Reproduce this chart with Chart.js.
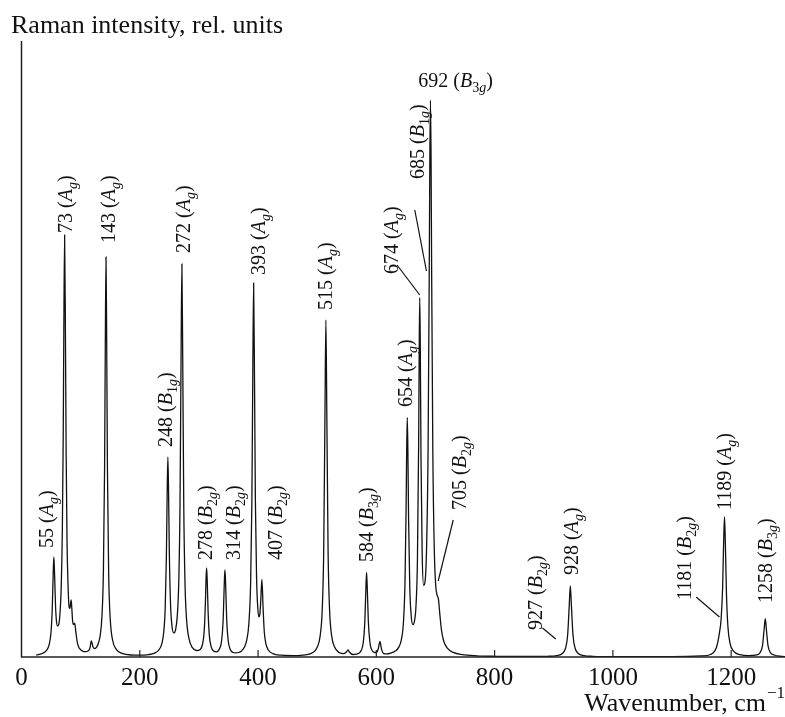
<!DOCTYPE html>
<html>
<head>
<meta charset="utf-8">
<script src="https://cdn.jsdelivr.net/npm/chart.js@4.4.1/dist/chart.umd.min.js"></script>
<style>
  body { margin: 0; background: #fff; }
  canvas { display: block; }
</style>
</head>
<body>
<canvas id="mycanvas" width="785" height="717"></canvas>
<script>
// spectrum (wavenumber, cm-1 / intensity, rel. units)
var wavenumber = [
  25, 35, 42, 47, 50, 52, 53.5, 54.7, 56, 57.5, 59, 61, 63, 65, 67, 69, 70.5, 71.5, 72.9, 74.3,
  75.5, 77, 79, 80.6, 82, 83, 84, 85, 86.5, 88, 90, 92, 94.8, 98, 104, 109, 114, 116, 118, 121.2,
  124, 127, 130, 133, 136, 138.5, 140.5, 141.7, 142.9, 144.1, 145.3, 147.4, 150, 154, 160, 170, 185, 200,
  215, 225, 232, 237, 240.5, 243, 245, 246.3, 247.5, 248.7, 250, 252, 254.5, 257.5, 260.5, 263.5, 266, 268,
  269.8, 271.2, 272.6, 274.4, 276.5, 279, 283, 289, 296, 302, 306, 309, 311, 312, 313, 314, 315.5, 317.5,
  320.5, 325, 330, 335, 338.5, 341, 343, 344, 345, 347, 349.5, 353, 358, 362, 367, 372, 377, 381,
  384.5, 387.5, 389.5, 391, 392.5, 394, 395.5, 397.5, 399.5, 401.4, 403, 404.5, 406.5, 408.5, 410.5, 413, 417, 425,
  440, 460, 480, 492, 500, 505, 508.5, 511, 513.2, 514.7, 516.2, 518.4, 520.9, 524.4, 529.4, 537, 545, 549,
  552, 555, 560, 566, 571, 575, 578, 580.5, 582.2, 583.5, 584.8, 586.5, 589, 592, 596, 600, 603, 604.5,
  606, 607.5, 609, 612, 618, 625, 632, 638, 642.5, 646, 648.5, 650.3, 651.3, 652.3, 653.3, 654.5, 656.5, 659,
  662, 664.5, 667, 669.5, 671.5, 672.5, 673.4, 674.3, 675.5, 677.5, 680, 682.5, 685, 687.5, 689.5, 690.5, 691.5, 692.5,
  693.5, 695.5, 698, 700.5, 703, 705, 707.5, 710, 714, 720, 730, 745, 770, 800, 850, 890, 905, 915,
  920, 923.5, 926, 928, 930, 932.5, 936, 941, 951, 966, 1000, 1100, 1150, 1165, 1175, 1180, 1183, 1185.5,
  1187.3, 1188.7, 1190.1, 1192, 1194.5, 1198, 1204, 1215, 1230, 1243, 1249, 1253, 1255.8, 1257.6, 1259.4, 1262.2,
  1266.2, 1272.6, 1285, 1293
];
var intensity = [
  1.9, 3.5, 6.4, 12.9, 25.5, 48.6, 81.8, 100, 81.5, 51.7, 36.5, 31, 32.6, 43, 67, 124, 218, 318, 422, 321,
  203, 116, 66.5, 49.7, 48.6, 53.7, 57.2, 49.2, 35.5, 32.4, 33.8, 24.3, 13.3, 8.6, 5.7, 5.3, 6.8, 9.6, 16, 9.7,
  8.4, 9.8, 13.7, 21.4, 40.5, 86, 190, 311, 400, 311, 189, 83, 38.5, 17, 7.8, 3.7, 2, 1.8,
  2.4, 3.9, 6.9, 12.6, 24.8, 49.2, 101.5, 163, 200, 164, 103.4, 52.7, 30.8, 24.1, 27.2, 41.9, 76.7, 150.6,
  299.3, 393, 299, 149.7, 73.2, 38.4, 18.8, 9.3, 6.5, 7.6, 12.5, 26.7, 55.3, 77.3, 89, 77, 45.7, 22.4,
  10.7, 5.9, 5.2, 8.4, 16.7, 37.2, 75.7, 87, 76, 36.7, 16.2, 7.6, 4.5, 4.1, 4.5, 6.1, 9.9, 17.3,
  33.9, 75.5, 153.7, 275, 374, 276, 155.6, 79, 49.5, 40.1, 42.3, 55.7, 77.5, 49.1, 25.5, 13.9, 7.3, 3.4,
  1.8, 1.4, 2.1, 4.2, 9.7, 21.2, 47.4, 106, 248, 337, 248, 106, 47.4, 21.3, 9.9, 4.5, 3.4, 4.7,
  7, 4.5, 2.5, 2.8, 4, 7.3, 15, 34.9, 66.5, 84.6, 66.5, 35.2, 15.3, 7.6, 4.7, 4.5, 7.7, 12.1,
  15.7, 11.9, 7.3, 3.7, 3.1, 4.1, 5.9, 9.9, 17.9, 36.3, 75.7, 148, 207, 239.5, 208, 139.5, 70.7, 40.9,
  32.3, 36, 50.8, 97.5, 211.5, 309, 359.5, 312, 200.4, 103.6, 71.7, 76.1, 110.5, 207.7, 388.6, 502, 556.6, 501.4,
  387.7, 205.6, 107.1, 70.8, 61.3, 57.9, 41.9, 27.5, 15.8, 8.9, 4.6, 2.4, 1.2, 0.7, 0.5, 0.7, 1.4, 3.8,
  9, 22, 49.4, 71.2, 49.4, 22, 9, 3.8, 1.4, 0.7, 0.4, 0.4, 1.1, 2.5, 9.5, 23.7, 38, 69,
  116, 140, 115, 63.8, 30.2, 13.9, 5.8, 2.3, 1.4, 2.1, 4.5, 11.7, 28.2, 38.3, 28.2, 11.7,
  4.5, 2, 0.6, 0.4
];
var xTicks = [0, 200, 400, 600, 800, 1000, 1200];

// peak labels: number, symbol, subscript, anchor (wavenumber, intensity) at the text start
var peakLabels = [
  {num: '55',   sym: 'A', sub: 'g',  x: 42,   y: 109},
  {num: '73',   sym: 'A', sub: 'g',  x: 73,   y: 424},
  {num: '143',  sym: 'A', sub: 'g',  x: 146,  y: 414},
  {num: '248',  sym: 'B', sub: '1g', x: 242.5, y: 210},
  {num: '272',  sym: 'A', sub: 'g',  x: 273,  y: 404},
  {num: '278',  sym: 'B', sub: '2g', x: 310,  y: 97},
  {num: '314',  sym: 'B', sub: '2g', x: 358,  y: 97},
  {num: '393',  sym: 'A', sub: 'g',  x: 400,  y: 382},
  {num: '407',  sym: 'B', sub: '2g', x: 429,  y: 97},
  {num: '515',  sym: 'A', sub: 'g',  x: 513.5, y: 347},
  {num: '584',  sym: 'B', sub: '3g', x: 583,  y: 95},
  {num: '654',  sym: 'A', sub: 'g',  x: 649,  y: 250},
  {num: '674',  sym: 'A', sub: 'g',  x: 624,  y: 383},
  {num: '685',  sym: 'B', sub: '1g', x: 669,  y: 478},
  {num: '705',  sym: 'B', sub: '2g', x: 739.5, y: 147},
  {num: '927',  sym: 'B', sub: '2g', x: 868,  y: 27},
  {num: '928',  sym: 'A', sub: 'g',  x: 929,  y: 82},
  {num: '1181', sym: 'B', sub: '2g', x: 1120, y: 57},
  {num: '1189', sym: 'A', sub: 'g',  x: 1188, y: 147},
  {num: '1258', sym: 'B', sub: '3g', x: 1257.6, y: 54}
];
var topLabel = {num: '692', sym: 'B', sub: '3g', x: 734, y: 570};
// leader lines [x1, y1, x2, y2]
var leaders = [
  [635, 392, 673.4, 362],
  [665, 447, 684.7, 386],
  [730, 137, 704.6, 76],
  [881, 29, 903.4, 18],
  [1140.7, 60, 1180.2, 40]
];

var serif = '"Liberation Serif", "Times New Roman", serif';

function labelParts(l) {
  var parts = [{t: l.num + ' (', f: '20px ' + serif, dy: 0}, {t: l.sym, f: 'italic 20px ' + serif, dy: 0}];
  var digits = l.sub.replace('g', '');
  if (digits) parts.push({t: digits, f: '14px ' + serif, dy: 5});
  parts.push({t: 'g', f: 'italic 14px ' + serif, dy: 5});
  parts.push({t: ')', f: '20px ' + serif, dy: 0});
  return parts;
}

function drawParts(ctx, parts, x0, y0) {
  var x = x0;
  parts.forEach(function(p){
    ctx.font = p.f;
    ctx.fillText(p.t, x, y0 + p.dy);
    x += ctx.measureText(p.t).width;
  });
}

function partsWidth(ctx, parts) {
  var w = 0;
  parts.forEach(function(p){ ctx.font = p.f; w += ctx.measureText(p.t).width; });
  return w;
}

var decor = {
  id: 'decor',
  afterDatasetsDraw: function(chart) {
    var ctx = chart.ctx;
    var xs = chart.scales.x, ys = chart.scales.y, area = chart.chartArea;
    ctx.save();
    ctx.strokeStyle = '#222';
    ctx.lineWidth = 1.5;
    ctx.beginPath();
    ctx.moveTo(area.left, area.top);
    ctx.lineTo(area.left, area.bottom);
    ctx.lineTo(area.right, area.bottom);
    ctx.stroke();
    // inward ticks
    ctx.lineWidth = 1.2;
    xTicks.forEach(function(v){
      if (v === 0) return;
      var px = xs.getPixelForValue(v);
      ctx.beginPath();
      ctx.moveTo(px, area.bottom);
      ctx.lineTo(px, area.bottom - 7);
      ctx.stroke();
    });
    // leader lines
    ctx.strokeStyle = '#111';
    ctx.lineWidth = 1.2;
    leaders.forEach(function(s){
      ctx.beginPath();
      ctx.moveTo(xs.getPixelForValue(s[0]), ys.getPixelForValue(s[1]));
      ctx.lineTo(xs.getPixelForValue(s[2]), ys.getPixelForValue(s[3]));
      ctx.stroke();
    });
    ctx.fillStyle = '#111';
    ctx.textBaseline = 'alphabetic';
    ctx.textAlign = 'left';
    peakLabels.forEach(function(l){
      ctx.save();
      ctx.translate(xs.getPixelForValue(l.x), ys.getPixelForValue(l.y));
      ctx.rotate(-Math.PI / 2);
      drawParts(ctx, labelParts(l), 0, 7);
      ctx.restore();
    });
    var tp = labelParts(topLabel);
    drawParts(ctx, tp, xs.getPixelForValue(topLabel.x) - partsWidth(ctx, tp) / 2, ys.getPixelForValue(topLabel.y));
    // axis titles
    ctx.font = '26px ' + serif;
    ctx.fillText('Raman intensity, rel. units', 11, 33);
    var sup = '\u22121';
    ctx.font = '17px ' + serif;
    var supW = ctx.measureText(sup).width;
    ctx.font = '26px ' + serif;
    var main = 'Wavenumber, cm';
    var mainW = ctx.measureText(main).width;
    var x0 = 784 - supW - mainW;
    ctx.fillText(main, x0, 711);
    ctx.font = '17px ' + serif;
    ctx.fillText(sup, x0 + mainW + 1, 698);
    ctx.restore();
  }
};

var points = wavenumber.map(function(w, i){ return {x: w, y: intensity[i]}; });

var ctx = document.getElementById("mycanvas").getContext('2d');
var chart = new Chart(ctx, {
  type: 'line',
  data: {
    datasets: [{
      label: 'Raman',
      data: points,
      borderColor: '#111',
      borderWidth: 1.3,
      pointRadius: 0,
      cubicInterpolationMode: 'monotone',
      fill: false
    }]
  },
  options: {
    responsive: false,
    animation: false,
    layout: {padding: {left: 21.5, top: 41, right: 0, bottom: 0}},
    plugins: {legend: {display: false}, tooltip: {enabled: false}},
    scales: {
      x: {
        type: 'linear',
        min: 0,
        max: 1291,
        afterBuildTicks: function(scale){ scale.ticks = xTicks.map(function(v){ return {value: v}; }); },
        afterFit: function(scale){ scale.height = 60; },
        grid: {display: false, drawTicks: false},
        border: {display: false},
        ticks: {
          color: '#111',
          padding: 6,
          maxRotation: 0,
          autoSkip: false,
          font: {family: serif, size: 25},
          callback: function(v){ return String(v); }
        }
      },
      y: {
        display: false,
        min: 0,
        max: 616
      }
    }
  },
  plugins: [decor]
});
</script>
</body>
</html>
